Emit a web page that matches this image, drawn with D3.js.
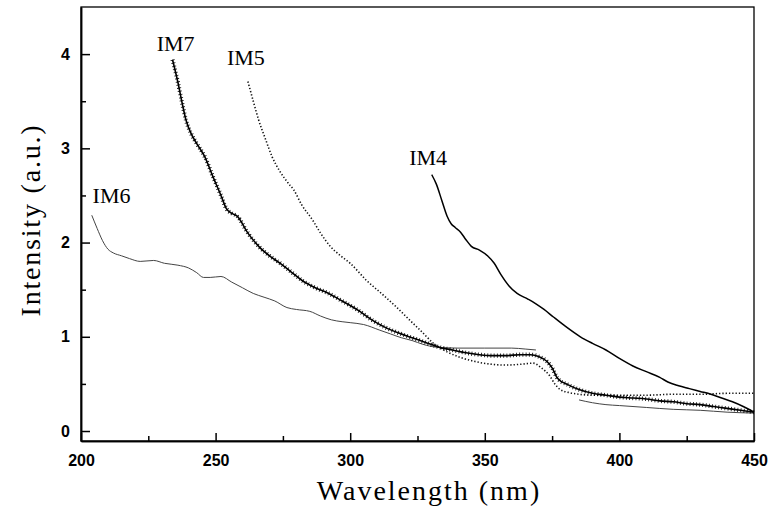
<!DOCTYPE html>
<html><head><meta charset="utf-8">
<script src="https://cdn.jsdelivr.net/npm/d3@7"></script>
<style>body{margin:0;background:#fff;} svg{display:block;}</style>
</head><body>
<svg id="chart" width="769" height="510"></svg>
<script>
// ---- data ----
const xTicks = [200, 250, 300, 350, 400, 450];
const yTicks = [0, 1, 2, 3, 4];

const im7W = [234,236,237.5,239,241,243,246,249,252,254,256,258,262,266,270,274,278,282,287,292,297,303,308,313,318,323,328,333,338,343,348,353,358,363,367,370,373,375,377,381,385,390,395,400,405,410,415,420,425,430,435,440,445,450];
const im7I = [3.94,3.70,3.49,3.30,3.15,3.05,2.91,2.70,2.50,2.36,2.31,2.28,2.10,1.96,1.86,1.78,1.69,1.60,1.52,1.46,1.38,1.28,1.18,1.10,1.04,0.99,0.94,0.89,0.86,0.83,0.81,0.80,0.80,0.81,0.81,0.79,0.74,0.67,0.56,0.49,0.44,0.40,0.38,0.36,0.35,0.34,0.32,0.31,0.29,0.28,0.26,0.24,0.22,0.20];

const im5W = [262,264,266,268.5,271,274,277,279,282,286,289,292.6,296,300,306,312,317,322,326,331,336,341,346,352,358,364,368,371,374,376,378,381,385,390,400,410,420,430,440,450];
const im5I = [3.71,3.50,3.30,3.10,2.91,2.75,2.63,2.56,2.40,2.24,2.10,1.96,1.87,1.78,1.60,1.45,1.32,1.18,1.07,0.93,0.84,0.78,0.74,0.71,0.70,0.71,0.72,0.67,0.59,0.50,0.44,0.41,0.39,0.38,0.38,0.38,0.39,0.39,0.40,0.40];

const im6W = [204,206,208,210,212,215,218,222,227,231,236,240,243,245.5,248,252,256,260,264,268,272,276.5,280,285,289,293,297,300,305,311,315,319,323,327,332,340,350,360,365,369,377,385,390,395,400,410,420,430,440,450];
const im6I = [2.29,2.15,2.02,1.93,1.89,1.86,1.83,1.80,1.81,1.78,1.76,1.73,1.68,1.63,1.63,1.64,1.58,1.52,1.46,1.42,1.38,1.31,1.29,1.27,1.22,1.18,1.16,1.15,1.13,1.07,1.03,0.99,0.96,0.92,0.89,0.88,0.88,0.88,0.87,0.86,null,0.33,0.30,0.28,0.27,0.25,0.23,0.22,0.20,0.19];

const im4W = [330.3,332,334,336,337.5,339,341,343,345,348,351,353.5,356,359,362,366,369,372,375.5,380,385.5,390,395,400,405,410,415,418,422,426,430,434,438,442,446,450];
const im4I = [2.72,2.62,2.45,2.28,2.20,2.16,2.11,2.03,1.96,1.92,1.86,1.78,1.66,1.54,1.46,1.40,1.35,1.29,1.21,1.11,1.00,0.93,0.86,0.77,0.69,0.63,0.57,0.52,0.48,0.45,0.42,0.39,0.35,0.31,0.26,0.20];

const seriesNames = ["IM7", "IM5", "IM4", "IM6"];

// ---- chart ----
const svg = d3.select("#chart");
const x = d3.scaleLinear().domain([200, 450]).range([81, 754]);
const y = d3.scaleLinear().domain([-0.106, 4.5]).range([441, 7]);

const zip = (w, v) => w.map((d, i) => ({w: d, v: v[i]}));
const line = d3.line().defined(d => d.v !== null).x(d => x(d.w)).y(d => y(d.v)).curve(d3.curveMonotoneX);

// frame
svg.append("rect").attr("x", 81).attr("y", 7).attr("width", 754 - 81).attr("height", 441 - 7)
  .attr("fill", "none").attr("stroke", "#000").attr("stroke-width", 1.3);

// axes
const tickFont = "'Liberation Sans', Arial, sans-serif";
const gx = svg.append("g").attr("transform", "translate(0,441)")
  .call(d3.axisBottom(x).tickValues(xTicks).tickFormat(d3.format("d")).tickSize(-8).tickSizeOuter(0).tickPadding(14));
const gxm = svg.append("g").attr("transform", "translate(0,441)")
  .call(d3.axisBottom(x).tickValues([225, 275, 325, 375, 425]).tickFormat("").tickSize(-5).tickSizeOuter(0));
const gy = svg.append("g").attr("transform", "translate(81,0)")
  .call(d3.axisLeft(y).tickValues(yTicks).tickFormat(d3.format("d")).tickSize(-9).tickSizeOuter(0).tickPadding(11));
const gym = svg.append("g").attr("transform", "translate(81,0)")
  .call(d3.axisLeft(y).tickValues([0.5, 1.5, 2.5, 3.5]).tickFormat("").tickSize(-5).tickSizeOuter(0));
[gx, gxm, gy, gym].forEach(g => {
  g.select(".domain").attr("stroke", "#000").attr("stroke-width", 1.5);
  g.selectAll(".tick line").attr("stroke", "#000").attr("stroke-width", 1.5);
  g.selectAll(".tick text").attr("fill", "#000").style("font-family", tickFont)
    .style("font-size", "16px").style("font-weight", "bold");
});

// series
svg.append("path").datum(zip(im6W, im6I)).attr("d", line)
  .attr("fill", "none").attr("stroke", "#444").attr("stroke-width", 1);
svg.append("path").datum(zip(im5W, im5I)).attr("d", line)
  .attr("fill", "none").attr("stroke", "#111").attr("stroke-width", 1.6).attr("stroke-dasharray", "1.3,2");
svg.append("path").datum(zip(im4W, im4I)).attr("d", line)
  .attr("fill", "none").attr("stroke", "#000").attr("stroke-width", 1.5);
const im7Data = zip(im7W, im7I);
svg.append("path").datum(im7Data).attr("d", line)
  .attr("fill", "none").attr("stroke", "#000").attr("stroke-width", 1.6);
svg.append("path").datum(im7Data).attr("d", line)
  .attr("fill", "none").attr("stroke", "#000").attr("stroke-width", 4.2).attr("stroke-dasharray", "0.8,2.4");

// series labels
const labelFont = "'Liberation Serif', 'Times New Roman', serif";
const labels = [
  {t: seriesNames[0], w: 228.1, v: 4.035},
  {t: seriesNames[1], w: 254.2, v: 3.883},
  {t: seriesNames[2], w: 321.9, v: 2.822},
  {t: seriesNames[3], w: 204.3, v: 2.422}
];
svg.selectAll("text.lab").data(labels).enter().append("text").attr("class", "lab")
  .attr("x", d => x(d.w)).attr("y", d => y(d.v)).attr("text-anchor", "start")
  .style("font-family", labelFont).style("font-size", "22px").attr("fill", "#000")
  .text(d => d.t);

// axis titles
svg.append("text").attr("x", 429).attr("y", 500).attr("text-anchor", "middle")
  .style("font-family", labelFont).style("font-size", "28px").style("letter-spacing", "2px")
  .text("Wavelength (nm)");
svg.append("text").attr("transform", "translate(40,220) rotate(-90)").attr("text-anchor", "middle")
  .style("font-family", labelFont).style("font-size", "28px").style("letter-spacing", "1.8px")
  .text("Intensity (a.u.)");
</script>
</body></html>
